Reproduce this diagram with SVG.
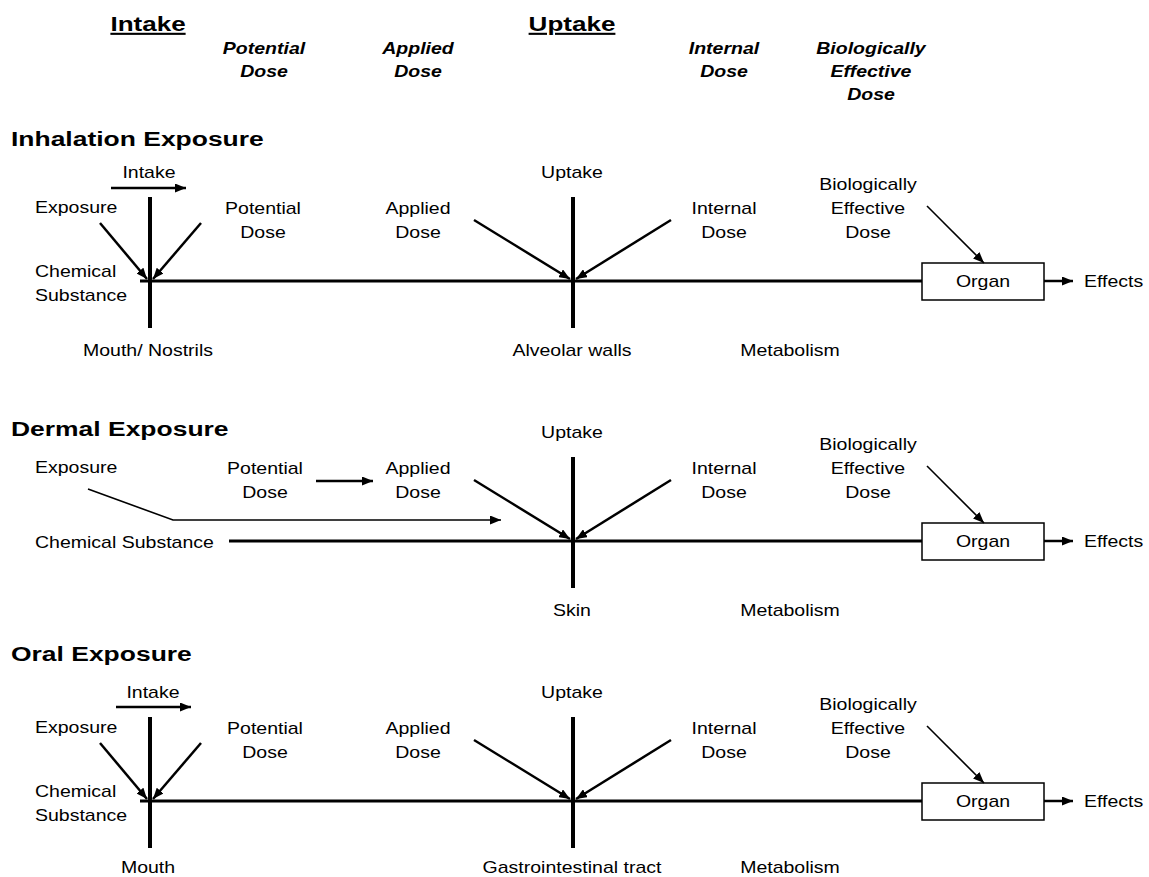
<svg xmlns="http://www.w3.org/2000/svg" width="1149" height="877" viewBox="0 0 1149 877">
<style>
text{font-family:"Liberation Sans",Arial,sans-serif;fill:#000}
.t{font-size:16px}
.c{text-anchor:middle}
.h{font-size:21px;font-weight:bold}
.hi{font-size:16px;font-weight:bold;font-style:italic}
.u{text-decoration:underline}
.thick{stroke:#000;stroke-width:4;fill:none}
.main{stroke:#000;stroke-width:3;fill:none}
.arr{stroke:#000;stroke-width:2.5;fill:none;marker-end:url(#ah)}
.thin{stroke:#000;stroke-width:1.6;fill:none;marker-end:url(#ah)}
.box{fill:#fff;stroke:#000;stroke-width:1.5}
</style>
<defs>
<marker id="ah" markerUnits="userSpaceOnUse" markerWidth="11" markerHeight="9" refX="11" refY="4.5" orient="auto">
<path d="M0,0 L11,4.5 L0,9 z" fill="#000"/>
</marker>
</defs>
<rect width="1149" height="877" fill="#fff"/>

<g id="header">
<text class="h c u" transform="translate(148 31) scale(1.24 1)">Intake</text>
<text class="h c u" transform="translate(572 31) scale(1.24 1)">Uptake</text>
<text class="hi c" transform="translate(264 54) scale(1.22 1)"><tspan x="0">Potential</tspan><tspan x="0" dy="23">Dose</tspan></text>
<text class="hi c" transform="translate(418 54) scale(1.22 1)"><tspan x="0">Applied</tspan><tspan x="0" dy="23">Dose</tspan></text>
<text class="hi c" transform="translate(724 54) scale(1.22 1)"><tspan x="0">Internal</tspan><tspan x="0" dy="23">Dose</tspan></text>
<text class="hi c" transform="translate(871 54) scale(1.22 1)"><tspan x="0">Biologically</tspan><tspan x="0" dy="23">Effective</tspan><tspan x="0" dy="23">Dose</tspan></text>
</g>

<!-- ========== Inhalation ========== -->
<g id="inh-title"><text class="h" transform="translate(11 146) scale(1.26 1)">Inhalation Exposure</text></g>
<g id="inh-intake"><text class="t c" transform="translate(149 178) scale(1.22 1)">Intake</text></g>
<g id="inh-exposure"><text class="t" transform="translate(35 213) scale(1.22 1)">Exposure</text></g>
<g id="inh-potential"><text class="t c" transform="translate(263 214) scale(1.22 1)"><tspan x="0">Potential</tspan><tspan x="0" dy="24">Dose</tspan></text></g>
<g id="inh-chemical"><text class="t" transform="translate(35 277) scale(1.22 1)"><tspan x="0">Chemical</tspan><tspan x="0" dy="24">Substance</tspan></text></g>
<g id="inh-mouth"><text class="t c" transform="translate(148 356) scale(1.22 1)">Mouth/ Nostrils</text></g>
<g id="inh-uptake"><text class="t c" transform="translate(572 178) scale(1.22 1)">Uptake</text></g>
<g id="inh-applied"><text class="t c" transform="translate(418 214) scale(1.22 1)"><tspan x="0">Applied</tspan><tspan x="0" dy="24">Dose</tspan></text></g>
<g id="inh-internal"><text class="t c" transform="translate(724 214) scale(1.22 1)"><tspan x="0">Internal</tspan><tspan x="0" dy="24">Dose</tspan></text></g>
<g id="inh-alveolar"><text class="t c" transform="translate(572 356) scale(1.22 1)">Alveolar walls</text></g>
<g id="inh-metabolism"><text class="t c" transform="translate(790 356) scale(1.22 1)">Metabolism</text></g>
<g id="inh-bio"><text class="t c" transform="translate(868 190) scale(1.22 1)"><tspan x="0">Biologically</tspan><tspan x="0" dy="24">Effective</tspan><tspan x="0" dy="24">Dose</tspan></text></g>
<g id="inh-organ"><rect class="box" x="922" y="263" width="122" height="37"/><text class="t c" transform="translate(983 287) scale(1.22 1)">Organ</text></g>
<g id="inh-effects"><text class="t" transform="translate(1084 287) scale(1.22 1)">Effects</text></g>

<!-- ========== Dermal ========== -->
<g id="der-title"><text class="h" transform="translate(11 436) scale(1.26 1)">Dermal Exposure</text></g>
<g id="der-exposure"><text class="t" transform="translate(35 473) scale(1.22 1)">Exposure</text></g>
<g id="der-potential"><text class="t c" transform="translate(265 474) scale(1.22 1)"><tspan x="0">Potential</tspan><tspan x="0" dy="24">Dose</tspan></text></g>
<g id="der-applied"><text class="t c" transform="translate(418 474) scale(1.22 1)"><tspan x="0">Applied</tspan><tspan x="0" dy="24">Dose</tspan></text></g>
<g id="der-chemical"><text class="t" transform="translate(35 548) scale(1.22 1)">Chemical Substance</text></g>
<g id="der-uptake"><text class="t c" transform="translate(572 438) scale(1.22 1)">Uptake</text></g>
<g id="der-internal"><text class="t c" transform="translate(724 474) scale(1.22 1)"><tspan x="0">Internal</tspan><tspan x="0" dy="24">Dose</tspan></text></g>
<g id="der-skin"><text class="t c" transform="translate(572 616) scale(1.22 1)">Skin</text></g>
<g id="der-metabolism"><text class="t c" transform="translate(790 616) scale(1.22 1)">Metabolism</text></g>
<g id="der-bio"><text class="t c" transform="translate(868 450) scale(1.22 1)"><tspan x="0">Biologically</tspan><tspan x="0" dy="24">Effective</tspan><tspan x="0" dy="24">Dose</tspan></text></g>
<g id="der-organ"><rect class="box" x="922" y="523" width="122" height="37"/><text class="t c" transform="translate(983 547) scale(1.22 1)">Organ</text></g>
<g id="der-effects"><text class="t" transform="translate(1084 547) scale(1.22 1)">Effects</text></g>

<!-- ========== Oral ========== -->
<g id="ora-title"><text class="h" transform="translate(11 661) scale(1.26 1)">Oral Exposure</text></g>
<g id="ora-intake"><text class="t c" transform="translate(153 698) scale(1.22 1)">Intake</text></g>
<g id="ora-exposure"><text class="t" transform="translate(35 733) scale(1.22 1)">Exposure</text></g>
<g id="ora-potential"><text class="t c" transform="translate(265 734) scale(1.22 1)"><tspan x="0">Potential</tspan><tspan x="0" dy="24">Dose</tspan></text></g>
<g id="ora-chemical"><text class="t" transform="translate(35 797) scale(1.22 1)"><tspan x="0">Chemical</tspan><tspan x="0" dy="24">Substance</tspan></text></g>
<g id="ora-mouth"><text class="t c" transform="translate(148 873) scale(1.22 1)">Mouth</text></g>
<g id="ora-uptake"><text class="t c" transform="translate(572 698) scale(1.22 1)">Uptake</text></g>
<g id="ora-applied"><text class="t c" transform="translate(418 734) scale(1.22 1)"><tspan x="0">Applied</tspan><tspan x="0" dy="24">Dose</tspan></text></g>
<g id="ora-internal"><text class="t c" transform="translate(724 734) scale(1.22 1)"><tspan x="0">Internal</tspan><tspan x="0" dy="24">Dose</tspan></text></g>
<g id="ora-gi"><text class="t c" transform="translate(572 873) scale(1.22 1)">Gastrointestinal tract</text></g>
<g id="ora-metabolism"><text class="t c" transform="translate(790 873) scale(1.22 1)">Metabolism</text></g>
<g id="ora-bio"><text class="t c" transform="translate(868 710) scale(1.22 1)"><tspan x="0">Biologically</tspan><tspan x="0" dy="24">Effective</tspan><tspan x="0" dy="24">Dose</tspan></text></g>
<g id="ora-organ"><rect class="box" x="922" y="783" width="122" height="37"/><text class="t c" transform="translate(983 807) scale(1.22 1)">Organ</text></g>
<g id="ora-effects"><text class="t" transform="translate(1084 807) scale(1.22 1)">Effects</text></g>

<g id="connectors">
<!-- Inhalation -->
<line class="main" x1="140" y1="281" x2="922" y2="281"/>
<line class="thick" x1="150" y1="197" x2="150" y2="328"/>
<line class="thick" x1="573" y1="197" x2="573" y2="328"/>
<line class="arr" x1="111" y1="188" x2="186" y2="188"/>
<line class="arr" x1="100" y1="223" x2="147" y2="279"/>
<line class="arr" x1="201" y1="223" x2="153" y2="279"/>
<line class="arr" x1="474" y1="220" x2="570" y2="279"/>
<line class="arr" x1="671" y1="220" x2="576" y2="279"/>
<line class="thin" x1="927" y1="206" x2="984" y2="263"/>
<line class="arr" x1="1044" y1="281" x2="1073" y2="281"/>
<!-- Dermal -->
<line class="main" x1="229" y1="541" x2="922" y2="541"/>
<line class="thick" x1="573" y1="457" x2="573" y2="588"/>
<line class="arr" x1="316" y1="481" x2="373" y2="481"/>
<polyline class="thin" points="88,489 173,520 501,520"/>
<line class="arr" x1="474" y1="480" x2="570" y2="539"/>
<line class="arr" x1="671" y1="480" x2="576" y2="539"/>
<line class="thin" x1="927" y1="466" x2="984" y2="523"/>
<line class="arr" x1="1044" y1="541" x2="1073" y2="541"/>
<!-- Oral -->
<line class="main" x1="140" y1="801" x2="922" y2="801"/>
<line class="thick" x1="150" y1="717" x2="150" y2="848"/>
<line class="thick" x1="573" y1="717" x2="573" y2="848"/>
<line class="arr" x1="116" y1="707" x2="191" y2="707"/>
<line class="arr" x1="100" y1="743" x2="147" y2="799"/>
<line class="arr" x1="201" y1="743" x2="153" y2="799"/>
<line class="arr" x1="474" y1="740" x2="570" y2="799"/>
<line class="arr" x1="671" y1="740" x2="576" y2="799"/>
<line class="thin" x1="927" y1="726" x2="984" y2="783"/>
<line class="arr" x1="1044" y1="801" x2="1073" y2="801"/>
</g>
</svg>
